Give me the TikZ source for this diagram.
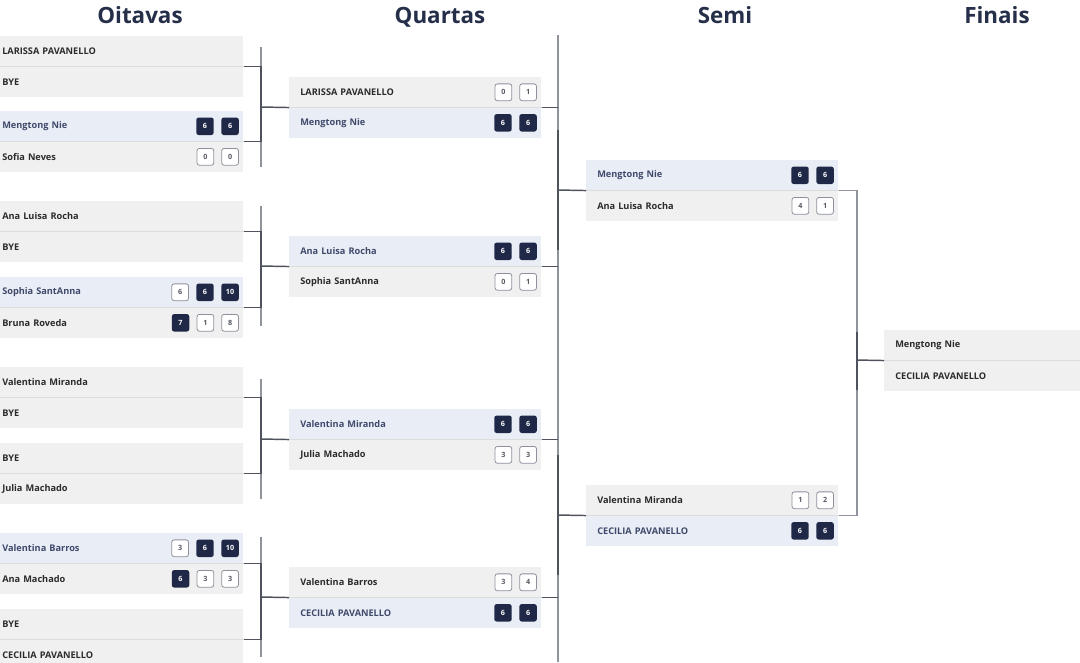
\documentclass[tikz,border=0pt]{standalone}
\usepackage{fontspec}
\setmainfont{Open Sans}
\usetikzlibrary{positioning}

\definecolor{rowgray}{HTML}{F0F0F0}
\definecolor{rowblue}{HTML}{E9EDF6}
\definecolor{sepline}{HTML}{DCDCDC}
\definecolor{navy}{HTML}{1F2847}
\definecolor{boxline}{HTML}{8C919B}
\definecolor{railgray}{HTML}{8E939C}
\definecolor{linkgray}{HTML}{4E535D}
\definecolor{nametxt}{HTML}{2B2B2B}
\definecolor{hitxt}{HTML}{3F4A6B}
\definecolor{titletxt}{HTML}{252F4A}
\definecolor{scoretxt}{HTML}{555A63}

\begin{document}
\begin{tikzpicture}[x=0.75pt,y=0.75pt,yscale=-1,xscale=1,
  title/.style={anchor=base,text=titletxt,font=\bfseries\fontsize{16.8}{20}\selectfont},
  row/.style={anchor=north west,fill=rowgray,minimum height=22.5pt,text width=172.5pt,inner xsep=8.25pt,inner ysep=0pt,align=left,text=nametxt,font=\bfseries\fontsize{6.9}{8}\selectfont},
  hirow/.style={row,fill=rowblue,text=hitxt},
  win/.style={rounded corners=1.8pt,fill=navy,text=white,minimum size=13.1pt,inner sep=0pt,font=\bfseries\fontsize{5.4}{6}\selectfont},
  lose/.style={win,draw=boxline,line width=0.6pt,fill=white,text=scoretxt,minimum size=12.6pt},
  sep/.style={draw=sepline,line width=0.5pt},
  rail/.style={draw=railgray,line width=1pt},
  link/.style={draw=linkgray,line width=1.1pt}]
\useasboundingbox (0,0) rectangle (1080,662);
\clip (0,0) rectangle (1080,662);

% Titles
\node [title] (tOit) at (140,23) {Oitavas};
\node [title] (tQua) at (440,23) {Quartas};
\node [title] (tSem) at (725,23) {Semi};
\node [title] (tFin) at (997,23) {Finais};

% Oitavas
\node [row] (oit1a) at (-9,36) {LARISSA PAVANELLO};
\node [row] (oit1b) at (oit1a.south west) {BYE};
\node [hirow] (oit2a) at (-9,111) {Mengtong Nie};
\node [row] (oit2b) at (oit2a.south west) {Sofia Neves};
\node [win] (oit2a2) at ([xshift=-10.1pt]oit2a.east) {6};
\node [win,left=5.3pt of oit2a2] (oit2a1) {6};
\node [lose] (oit2b2) at ([xshift=-10.1pt]oit2b.east) {0};
\node [lose,left=5.3pt of oit2b2] (oit2b1) {0};
\node [row] (oit3a) at (-9,201) {Ana Luisa Rocha};
\node [row] (oit3b) at (oit3a.south west) {BYE};
\node [hirow] (oit4a) at (-9,277) {Sophia SantAnna};
\node [row] (oit4b) at (oit4a.south west) {Bruna Roveda};
\node [win] (oit4a3) at ([xshift=-10.1pt]oit4a.east) {10};
\node [win,left=5.3pt of oit4a3] (oit4a2) {6};
\node [lose,left=5.3pt of oit4a2] (oit4a1) {6};
\node [lose] (oit4b3) at ([xshift=-10.1pt]oit4b.east) {8};
\node [lose,left=5.3pt of oit4b3] (oit4b2) {1};
\node [win,left=5.3pt of oit4b2] (oit4b1) {7};
\node [row] (oit5a) at (-9,367) {Valentina Miranda};
\node [row] (oit5b) at (oit5a.south west) {BYE};
\node [row] (oit6a) at (-9,443) {BYE};
\node [row] (oit6b) at (oit6a.south west) {Julia Machado};
\node [hirow] (oit7a) at (-9,533) {Valentina Barros};
\node [row] (oit7b) at (oit7a.south west) {Ana Machado};
\node [win] (oit7a3) at ([xshift=-10.1pt]oit7a.east) {10};
\node [win,left=5.3pt of oit7a3] (oit7a2) {6};
\node [lose,left=5.3pt of oit7a2] (oit7a1) {3};
\node [lose] (oit7b3) at ([xshift=-10.1pt]oit7b.east) {3};
\node [lose,left=5.3pt of oit7b3] (oit7b2) {3};
\node [win,left=5.3pt of oit7b2] (oit7b1) {6};
\node [row] (oit8a) at (-9,609) {BYE};
\node [row] (oit8b) at (oit8a.south west) {CECILIA PAVANELLO};

% Quartas
\node [row] (qua1a) at (289,77) {LARISSA PAVANELLO};
\node [hirow] (qua1b) at (qua1a.south west) {Mengtong Nie};
\node [lose] (qua1a2) at ([xshift=-10.1pt]qua1a.east) {1};
\node [lose,left=5.3pt of qua1a2] (qua1a1) {0};
\node [win] (qua1b2) at ([xshift=-10.1pt]qua1b.east) {6};
\node [win,left=5.3pt of qua1b2] (qua1b1) {6};
\node [hirow] (qua2a) at (289,236) {Ana Luisa Rocha};
\node [row] (qua2b) at (qua2a.south west) {Sophia SantAnna};
\node [win] (qua2a2) at ([xshift=-10.1pt]qua2a.east) {6};
\node [win,left=5.3pt of qua2a2] (qua2a1) {6};
\node [lose] (qua2b2) at ([xshift=-10.1pt]qua2b.east) {1};
\node [lose,left=5.3pt of qua2b2] (qua2b1) {0};
\node [hirow] (qua3a) at (289,409) {Valentina Miranda};
\node [row] (qua3b) at (qua3a.south west) {Julia Machado};
\node [win] (qua3a2) at ([xshift=-10.1pt]qua3a.east) {6};
\node [win,left=5.3pt of qua3a2] (qua3a1) {6};
\node [lose] (qua3b2) at ([xshift=-10.1pt]qua3b.east) {3};
\node [lose,left=5.3pt of qua3b2] (qua3b1) {3};
\node [row] (qua4a) at (289,567) {Valentina Barros};
\node [hirow] (qua4b) at (qua4a.south west) {CECILIA PAVANELLO};
\node [lose] (qua4a2) at ([xshift=-10.1pt]qua4a.east) {4};
\node [lose,left=5.3pt of qua4a2] (qua4a1) {3};
\node [win] (qua4b2) at ([xshift=-10.1pt]qua4b.east) {6};
\node [win,left=5.3pt of qua4b2] (qua4b1) {6};

% Semi
\node [hirow] (sem1a) at (586,160) {Mengtong Nie};
\node [row] (sem1b) at (sem1a.south west) {Ana Luisa Rocha};
\node [win] (sem1a2) at ([xshift=-10.1pt]sem1a.east) {6};
\node [win,left=5.3pt of sem1a2] (sem1a1) {6};
\node [lose] (sem1b2) at ([xshift=-10.1pt]sem1b.east) {1};
\node [lose,left=5.3pt of sem1b2] (sem1b1) {4};
\node [row] (sem2a) at (586,485) {Valentina Miranda};
\node [hirow] (sem2b) at (sem2a.south west) {CECILIA PAVANELLO};
\node [lose] (sem2a2) at ([xshift=-10.1pt]sem2a.east) {2};
\node [lose,left=5.3pt of sem2a2] (sem2a1) {1};
\node [win] (sem2b2) at ([xshift=-10.1pt]sem2b.east) {6};
\node [win,left=5.3pt of sem2b2] (sem2b1) {6};

% Finais
\node [row] (fin1a) at (884,330) {Mengtong Nie};
\node [row] (fin1b) at (fin1a.south west) {CECILIA PAVANELLO};

% row dividers
\foreach \m in {oit1a,oit2a,oit3a,oit4a,oit5a,oit6a,oit7a,oit8a,qua1a,qua2a,qua3a,qua4a,sem1a,sem2a,fin1a}
  \draw [sep] (\m.south west) -- (\m.south east);

% Oitavas -> Quartas
\coordinate (k1) at (261,107);
\coordinate (k2) at (261,266);
\coordinate (k3) at (261,439);
\coordinate (k4) at (261,597);
\foreach \k in {k1,k2,k3,k4}
  \draw [rail] ([yshift=45pt]\k) -- ([yshift=-45pt]\k);
\draw [link] (oit1a.south east) -| (k1) |- (oit2a.south east);
\draw [link] (oit3a.south east) -| (k2) |- (oit4a.south east);
\draw [link] (oit5a.south east) -| (k3) |- (oit6a.south east);
\draw [link] (oit7a.south east) -| (k4) |- (oit8a.south east);
\draw [link] (k1) -- (qua1a.south west);
\draw [link] (k2) -- (qua2a.south west);
\draw [link] (k3) -- (qua3a.south west);
\draw [link] (k4) -- (qua4a.south west);

% Quartas -> Semi
\coordinate (m1) at (558,190);
\coordinate (m2) at (558,515);
\coordinate (mTop) at (558,35);
\coordinate (mBot) at (558,662);
\draw [rail] (mTop) -- (mBot);
\draw [link] ([yshift=45pt]m1) -- ([yshift=-45pt]m1);
\draw [link] ([yshift=45pt]m2) -- ([yshift=-45pt]m2);
\draw [link] (qua1a.south east) -- (qua1a.south east -| m1);
\draw [link] (qua2a.south east) -- (qua2a.south east -| m1);
\draw [link] (qua3a.south east) -- (qua3a.south east -| m2);
\draw [link] (qua4a.south east) -- (qua4a.south east -| m2);
\draw [link] (m1) -- (sem1a.south west);
\draw [link] (m2) -- (sem2a.south west);

% Semi -> Finais
\coordinate (f1) at (857,360);
\draw [rail] (sem1a.south east) -| (f1) |- (sem2a.south east);
\draw [link] ([yshift=22.5pt]f1) -- ([yshift=-21pt]f1);
\draw [link] (f1) -- (fin1a.south west);
\end{tikzpicture}
\end{document}
